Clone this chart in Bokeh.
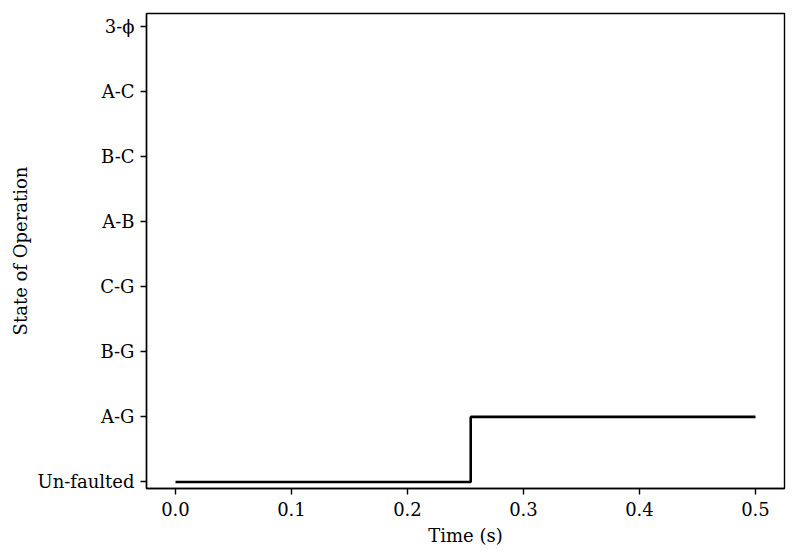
from bokeh.plotting import figure
from bokeh.models import FixedTicker, Range1d
from bokeh.embed import file_html
from bokeh.resources import INLINE

# Data
states = ["Un-faulted", "A-G", "B-G", "C-G", "A-B", "B-C", "A-C", "3-\u03d5"]
times = [0.0, 0.2545, 0.5]
state_idx = [0, 1, 1]
x_ticks = [0.0, 0.1, 0.2, 0.3, 0.4, 0.5]

FONT = "DejaVu Serif"
FS = "18px"

p = figure(width=792, height=550, output_backend="svg", toolbar_location=None,
           x_range=Range1d(-0.025, 0.525), y_range=Range1d(-0.1, 7.2),
           min_border_left=146, min_border_top=13, min_border_right=8, min_border_bottom=62)

p.step(times, state_idx, mode="after", line_color="black", line_width=2.6)

p.xgrid.visible = False
p.ygrid.visible = False
p.outline_line_color = "black"
p.outline_line_width = 1.4
p.outline_line_alpha = 1.0

p.xaxis.ticker = FixedTicker(ticks=x_ticks)
p.xaxis.major_label_overrides = {t: f"{t:.1f}" for t in x_ticks}
p.yaxis.ticker = FixedTicker(ticks=list(range(len(states))))
p.yaxis.major_label_overrides = {i: s for i, s in enumerate(states)}

for ax in (p.xaxis[0], p.yaxis[0]):
    ax.axis_line_color = "black"
    ax.axis_line_width = 1.4
    ax.major_tick_line_color = "black"
    ax.major_tick_line_width = 1.4
    ax.major_tick_in = 0
    ax.major_tick_out = 6
    ax.minor_tick_line_color = None
    ax.major_label_text_font = FONT
    ax.major_label_text_font_size = FS
    ax.major_label_text_color = "black"
    ax.axis_label_text_font = FONT
    ax.axis_label_text_font_size = FS
    ax.axis_label_text_font_style = "normal"
    ax.axis_label_text_color = "black"

p.xaxis.major_label_standoff = 7
p.yaxis.major_label_standoff = 6
p.xaxis.axis_label = "Time (s)"
p.yaxis.axis_label = "State of Operation"
p.xaxis.axis_label_standoff = 6
p.yaxis.axis_label_standoff = 4

open("out.html", "w").write(file_html(p, INLINE))
